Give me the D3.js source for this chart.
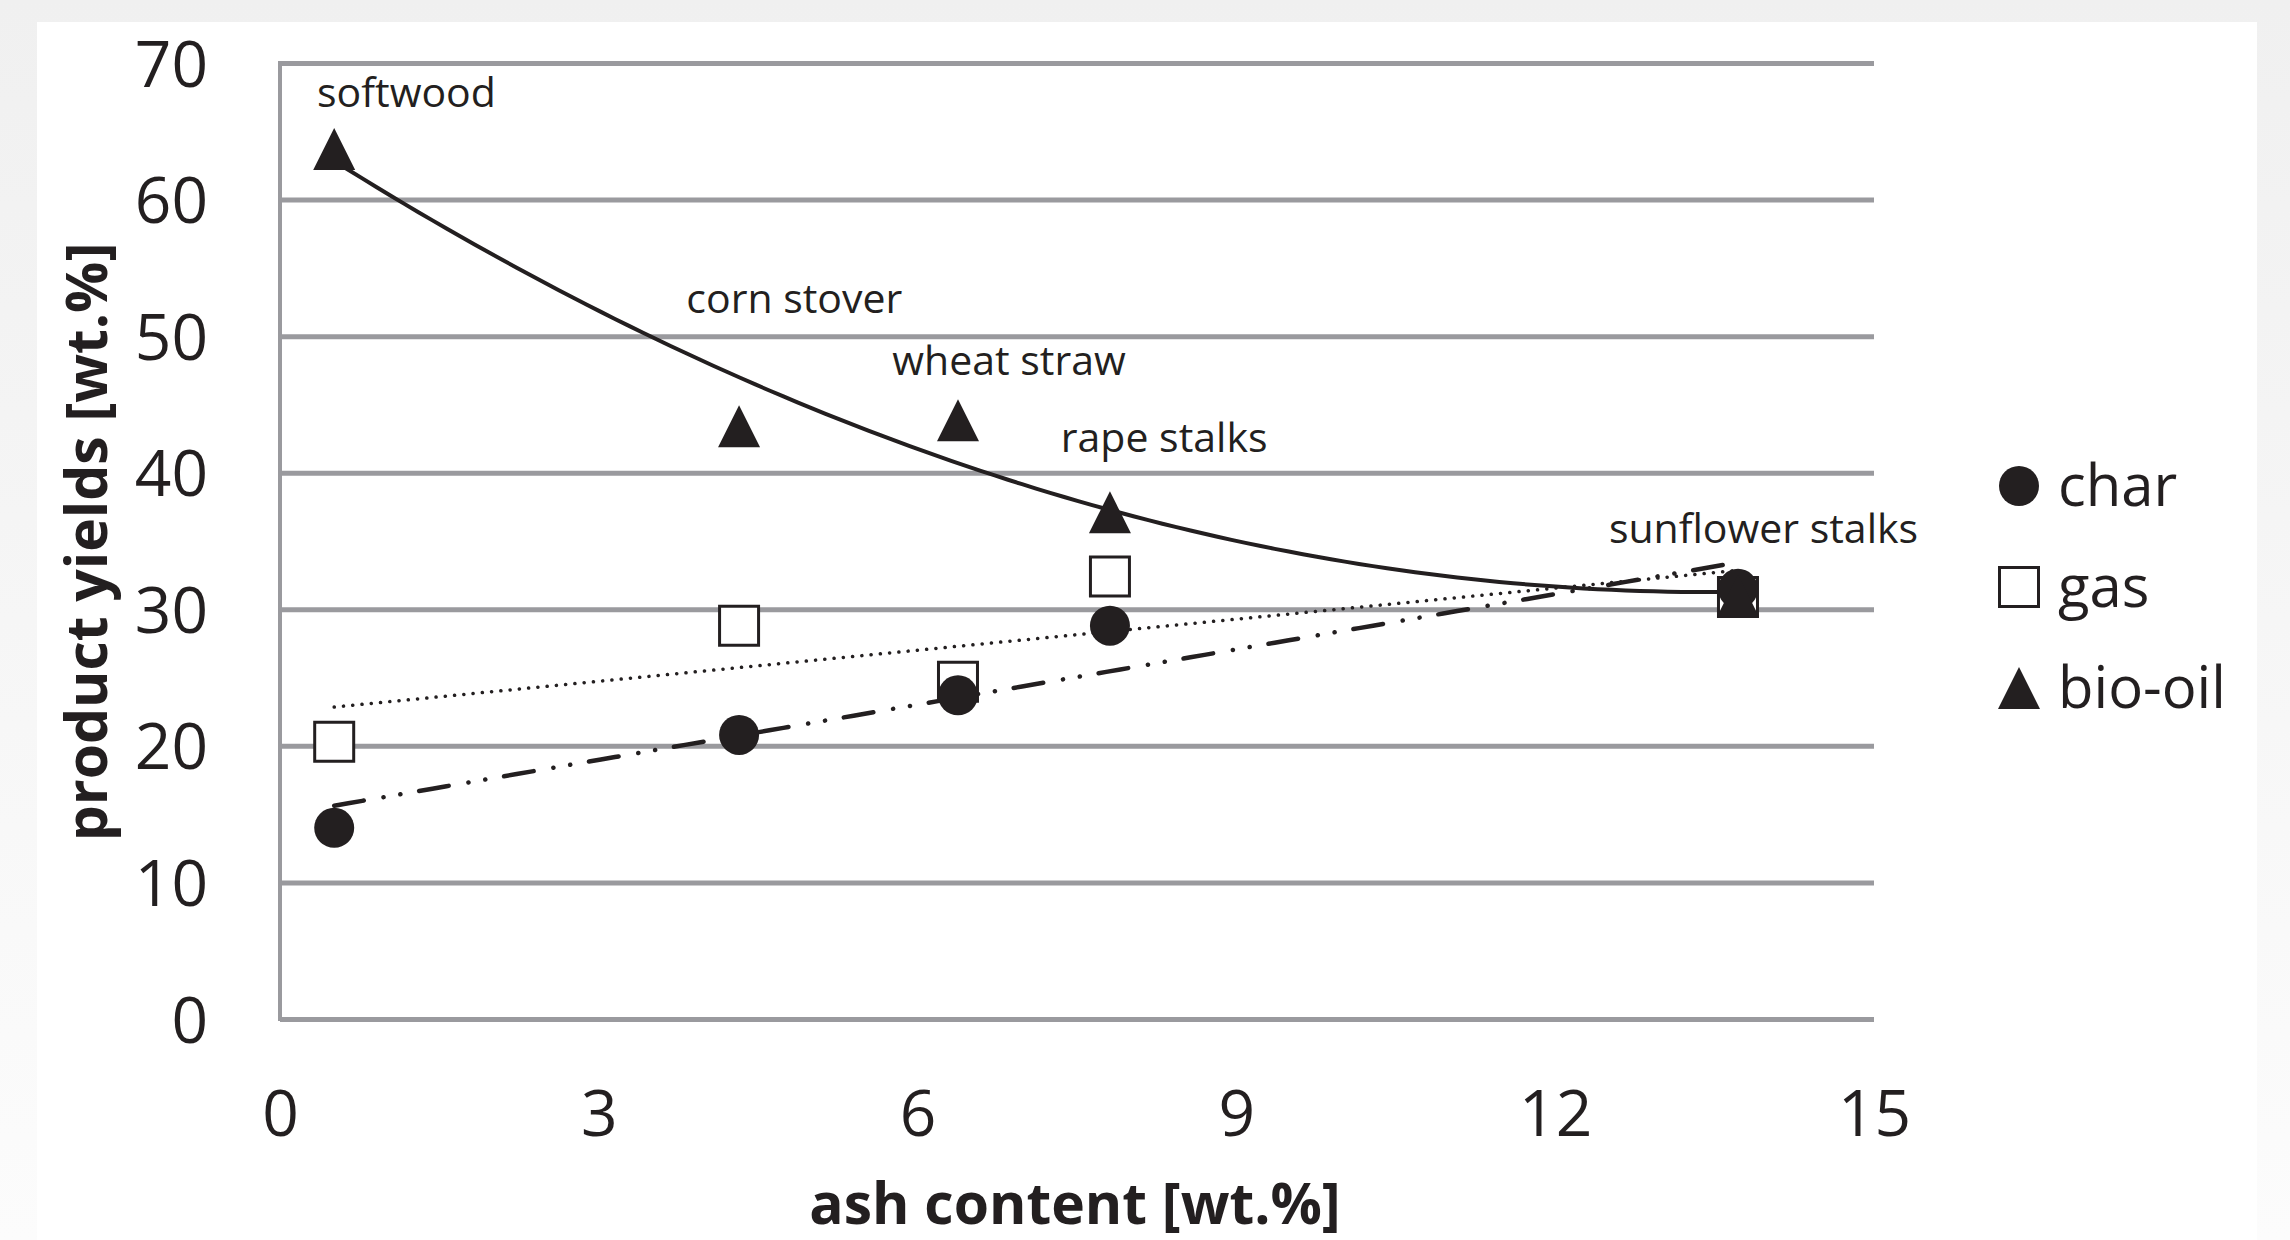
<!DOCTYPE html>
<html><head><meta charset="utf-8">
<script src="https://cdn.jsdelivr.net/npm/d3@7"></script>
<style>
html,body{margin:0;padding:0;}
body{width:2290px;height:1240px;overflow:hidden;background:#f2f2f2;}
text{font-family:"Open Sans",sans-serif;fill:#231f20;}
</style></head><body>
<svg id="chart" width="2290" height="1240"></svg>
<script>
// ---- data ----
const feedstocks = ["softwood", "corn stover", "wheat straw", "rape stalks", "sunflower stalks"];
const ashContent = [0.51, 4.32, 6.38, 7.81, 13.72];
const charYield = [14.0, 20.8, 23.7, 28.8, 31.5];
const gasYield = [20.3, 28.8, 24.7, 32.4, 30.9];
const bioOilYield = [63.7, 43.4, 43.85, 37.1, 31.0];
const seriesNames = ["char", "gas", "bio-oil"];
const xTicks = [0, 3, 6, 9, 12, 15];
const yTicks = [0, 10, 20, 30, 40, 50, 60, 70];
// annotation anchors (data units: ash content, yield)
const labelAsh = [1.19, 4.84, 6.86, 8.32, 13.96];
const labelYield = [66.8, 51.7, 47.15, 41.5, 34.85];

// ---- layout ----
const W = 2290, H = 1240;
const svg = d3.select("#chart");
const defs = svg.append("defs");
const grad = defs.append("linearGradient").attr("id", "bg").attr("x1", 0).attr("y1", 0).attr("x2", 0).attr("y2", 1);
grad.append("stop").attr("offset", "0%").attr("stop-color", "#f0f0f0");
grad.append("stop").attr("offset", "100%").attr("stop-color", "#fcfcfc");
svg.append("rect").attr("width", W).attr("height", H).attr("fill", "url(#bg)");
svg.append("rect").attr("x", 37).attr("y", 22).attr("width", 2220).attr("height", H - 22).attr("fill", "#ffffff");

const x = d3.scaleLinear().domain([0, 15]).range([280, 1874]);
const y = d3.scaleLinear().domain([0, 70]).range([1019, 63]);
const gridColor = "#9a9a9e";
const ink = "#231f20";

// gridlines + y labels
const yAxis = svg.append("g").attr("transform", `translate(${x(0)},0)`)
  .call(d3.axisLeft(y).tickValues(yTicks).tickSize(-(x(15) - x(0))).tickPadding(72).tickFormat(d3.format("d")));
yAxis.select(".domain").remove();
yAxis.selectAll(".tick line").attr("stroke", gridColor).attr("stroke-width", 5);
yAxis.selectAll(".tick text").attr("font-size", 64).attr("font-family", "Open Sans").attr("fill", ink).attr("dy", "0.36em");

// vertical axis line
svg.append("line").attr("x1", x(0)).attr("x2", x(0)).attr("y1", y(70) - 2).attr("y2", y(0) + 2)
  .attr("stroke", gridColor).attr("stroke-width", 4);

// x labels
const xAxis = svg.append("g").attr("transform", `translate(0,${y(0)})`)
  .call(d3.axisBottom(x).tickValues(xTicks).tickSize(0).tickPadding(72).tickFormat(d3.format("d")));
xAxis.select(".domain").remove();
xAxis.selectAll(".tick text").attr("font-size", 64).attr("font-family", "Open Sans").attr("fill", ink);

// axis titles
svg.append("text").attr("x", 1075).attr("y", 1224).attr("text-anchor", "middle")
  .attr("font-size", 57).attr("font-weight", 700).text("ash content [wt.%]");
svg.append("text").attr("transform", "translate(107,542) rotate(-90)").attr("text-anchor", "middle")
  .attr("font-size", 57).attr("font-weight", 700).text("product yields [wt.%]");

// ---- regressions (least squares, like spreadsheet trendlines) ----
function polyfit(xs, ys, order) {
  const n = order + 1;
  const A = Array.from({length: n}, () => new Array(n + 1).fill(0));
  for (let r = 0; r < n; r++) {
    for (let c = 0; c < n; c++) A[r][c] = d3.sum(xs, v => Math.pow(v, r + c));
    A[r][n] = d3.sum(xs.map((v, i) => Math.pow(v, r) * ys[i]));
  }
  for (let i = 0; i < n; i++) {
    let p = i;
    for (let k = i + 1; k < n; k++) if (Math.abs(A[k][i]) > Math.abs(A[p][i])) p = k;
    [A[i], A[p]] = [A[p], A[i]];
    for (let k = i + 1; k < n; k++) {
      const f = A[k][i] / A[i][i];
      for (let c = i; c <= n; c++) A[k][c] -= f * A[i][c];
    }
  }
  const coef = new Array(n).fill(0);
  for (let i = n - 1; i >= 0; i--) {
    let s = A[i][n];
    for (let c = i + 1; c < n; c++) s -= A[i][c] * coef[c];
    coef[i] = s / A[i][i];
  }
  return v => coef.reduce((acc, c, k) => acc + c * Math.pow(v, k), 0);
}
const xMin = d3.min(ashContent), xMax = d3.max(ashContent);
const samples = d3.range(0, 101).map(i => xMin + (xMax - xMin) * i / 100);
const line = d3.line().x(d => x(d[0])).y(d => y(d[1]));
const fitChar = polyfit(ashContent, charYield, 1);
const fitGas = polyfit(ashContent, gasYield, 1);
const fitOil = polyfit(ashContent, bioOilYield, 2);

const trend = svg.append("g").attr("fill", "none").attr("stroke", ink);
trend.append("path").attr("d", line(samples.map(v => [v, fitOil(v)])))
  .attr("stroke-width", 4);
trend.append("path").attr("d", line(samples.map(v => [v, fitGas(v)])))
  .attr("stroke-width", 3.5).attr("stroke-linecap", "round").attr("stroke-dasharray", "0.1 9.2");
trend.append("path").attr("d", line(samples.map(v => [v, fitChar(v)])))
  .attr("stroke-width", 4.5).attr("stroke-linecap", "round").attr("stroke-dasharray", "30 20 0.1 17 0.1 19");

// ---- markers ----
const circlePath = d3.symbol().type(d3.symbolCircle).size(Math.PI * 20 * 20)();
const squarePath = d3.symbol().type(d3.symbolSquare).size(39 * 39)();
const triPath = "M0,-21L21,21L-21,21Z";

const marks = svg.append("g");
marks.selectAll(".gas").data(ashContent).join("path").attr("class", "gas")
  .attr("d", squarePath).attr("transform", (d, i) => `translate(${x(d)},${y(gasYield[i])})`)
  .attr("fill", "#ffffff").attr("stroke", ink).attr("stroke-width", 3);
marks.selectAll(".char").data(ashContent).join("path").attr("class", "char")
  .attr("d", circlePath).attr("transform", (d, i) => `translate(${x(d)},${y(charYield[i])})`)
  .attr("fill", ink);
marks.selectAll(".oil").data(ashContent).join("path").attr("class", "oil")
  .attr("d", triPath).attr("transform", (d, i) => `translate(${x(d)},${y(bioOilYield[i])})`)
  .attr("fill", ink);

// ---- feedstock labels ----
svg.append("g").selectAll("text").data(feedstocks).join("text")
  .attr("x", (d, i) => x(labelAsh[i])).attr("y", (d, i) => y(labelYield[i]))
  .attr("text-anchor", "middle").attr("font-size", 41).text(d => d);

// ---- legend ----
const legendShapes = [
  {path: circlePath, fill: ink, stroke: "none"},
  {path: squarePath, fill: "#ffffff", stroke: ink},
  {path: triPath, fill: ink, stroke: "none"}
];
const legend = svg.append("g").attr("transform", "translate(2019,486)");
const item = legend.selectAll("g").data(seriesNames).join("g")
  .attr("transform", (d, i) => `translate(0,${i * 101})`);
item.append("path").attr("d", (d, i) => legendShapes[i].path)
  .attr("fill", (d, i) => legendShapes[i].fill).attr("stroke", (d, i) => legendShapes[i].stroke).attr("stroke-width", 3);
item.append("text").attr("x", 39).attr("y", 20).attr("font-size", 58).text(d => d);
</script>
</body></html>
